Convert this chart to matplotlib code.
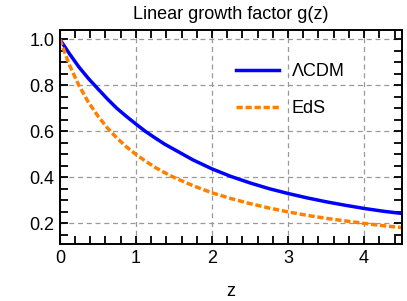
import matplotlib
matplotlib.use("Agg")
import matplotlib.pyplot as plt
from matplotlib.ticker import MultipleLocator

plt.rcParams['font.family'] = ['Liberation Sans', 'DejaVu Sans']

# redshift samples and growth factor values
z_vals = [0, 0.125, 0.25, 0.375, 0.5, 0.625, 0.75, 0.875, 1, 1.125, 1.25,
          1.375, 1.5, 1.75, 2, 2.25, 2.5, 2.75, 3, 3.25, 3.5, 3.75, 4, 4.25, 4.5]
g_lcdm = [1.0, 0.938, 0.88, 0.83, 0.785, 0.741, 0.70, 0.665, 0.632, 0.600,
          0.572, 0.545, 0.522, 0.476, 0.437, 0.404, 0.376, 0.351, 0.330,
          0.311, 0.294, 0.279, 0.265, 0.253, 0.243]
g_eds = [1.0, 0.889, 0.80, 0.727, 0.667, 0.615, 0.571, 0.533, 0.50, 0.471,
         0.444, 0.421, 0.40, 0.364, 0.333, 0.308, 0.286, 0.267, 0.25,
         0.235, 0.222, 0.211, 0.20, 0.19, 0.182]

fig = plt.figure(figsize=(4.07, 3.01), dpi=100)
ax = fig.add_axes([0.147, 0.189, 0.841, 0.711])

ax.plot(z_vals, g_lcdm, color='#0000ff', lw=2.5, label='ΛCDM')
ax.plot(z_vals, g_eds, color='#ff8000', lw=2.5, ls=(0, (1.8, 0.8)), label='EdS')

ax.set_xlim(0, 4.5)
ax.set_ylim(0.11, 1.04)
ax.xaxis.set_major_locator(MultipleLocator(1))
ax.xaxis.set_minor_locator(MultipleLocator(0.2))
ax.yaxis.set_major_locator(MultipleLocator(0.2))
ax.yaxis.set_minor_locator(MultipleLocator(0.05))
ax.tick_params(which='both', direction='in', top=True, right=True,
               length=5.5, width=1.3, labelsize=13, pad=4)
for s in ax.spines.values():
    s.set_linewidth(1.4)

ax.grid(True, which='major', color='#999999', ls=(0, (4, 3)), lw=0.9)

ax.set_title('Linear growth factor g(z)', fontsize=13, pad=8)
ax.set_xlabel('z', fontsize=13, labelpad=12)

ax.legend(loc='upper right', bbox_to_anchor=(0.88, 0.92), frameon=False,
          fontsize=13, handlelength=2.4, labelspacing=1.1, handletextpad=0.7)

fig.savefig('out.png', dpi=100)
